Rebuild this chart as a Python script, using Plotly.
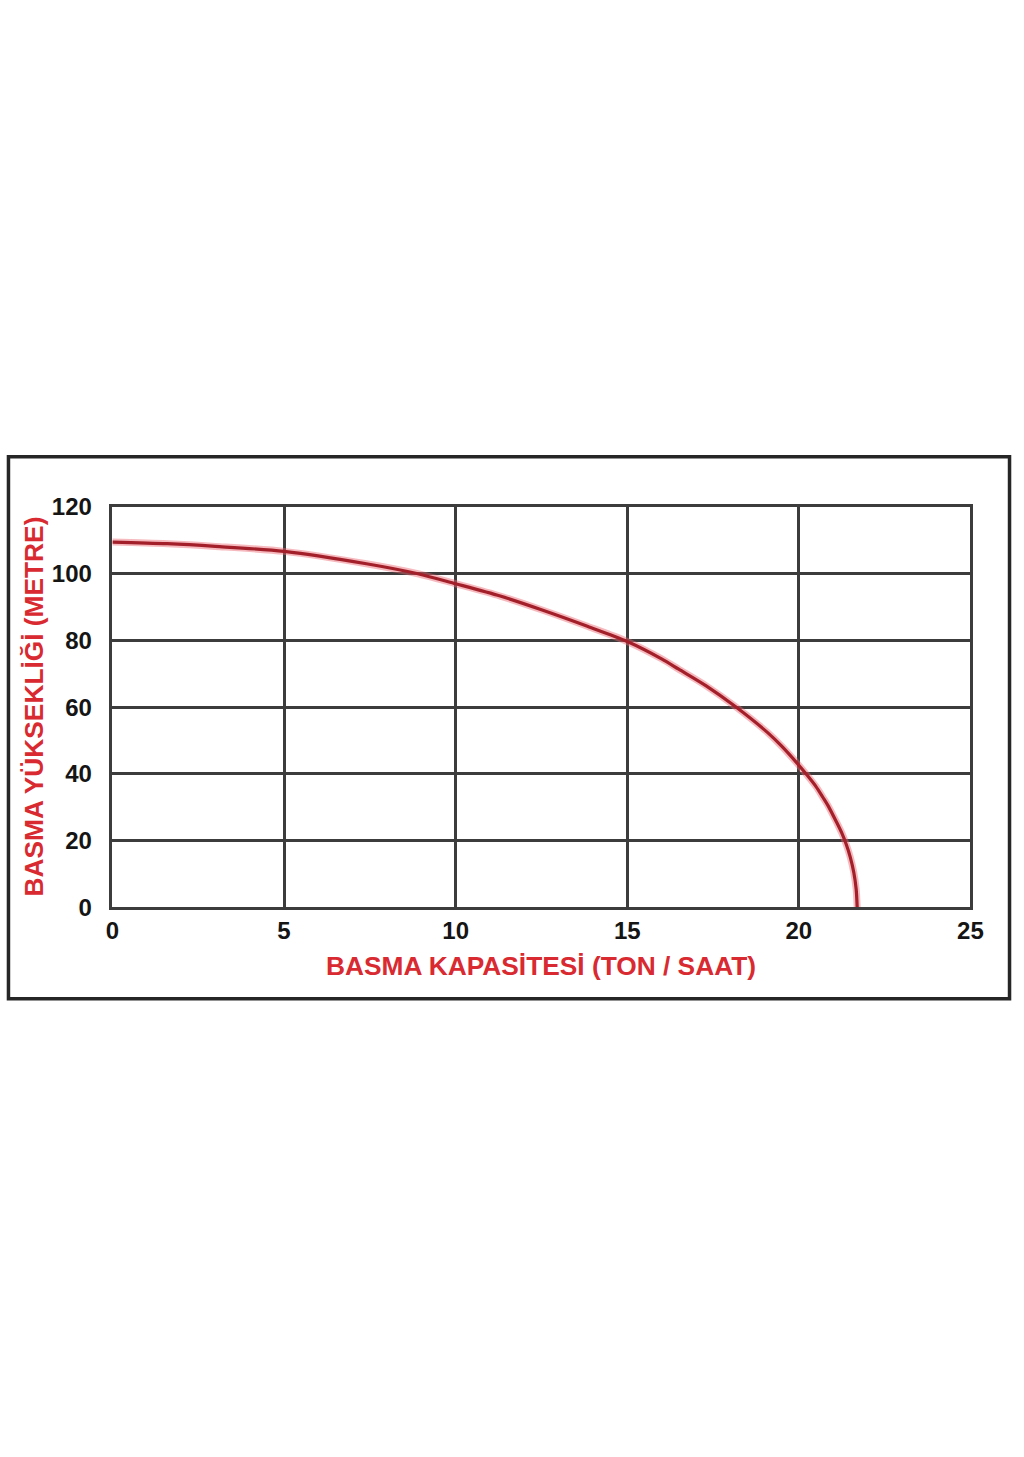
import plotly.graph_objects as go

# Pump curve data
capacity = [0, 1.6, 3, 5, 7.4, 8.9, 10, 11.3, 12.5, 13.8, 15, 16, 16.5, 17.3, 18.15,
            19.1, 19.5, 20, 20.25, 20.5, 20.7, 20.85, 21.1, 21.25, 21.38, 21.5, 21.6, 21.67, 21.7]
head = [109.5, 109.0, 108.2, 106.7, 103.0, 100.0, 97.0, 93.3, 89.2, 84.4, 79.7, 74.5, 71.4, 66.4, 60.2,
        52.3, 48.3, 42.6, 39.5, 36.2, 33.0, 30.5, 25.5, 22.3, 18.9, 15.0, 10.5, 5.5, 0]

x_ticks = [0, 5, 10, 15, 20, 25]
y_ticks = [0, 20, 40, 60, 80, 100, 120]
x_title = "BASMA KAPASİTESİ (TON / SAAT)"
y_title = "BASMA YÜKSEKLİĞİ (METRE)"

W, H = 1024, 1457
RED_TXT = "#d92a31"
GRID = "#3c3c3c"
FONT = "Liberation Sans, Arial, sans-serif"

# calibration of the photographed page (slight shrink about the centre)
SX, AX = 0.985, 5.1
SY, AY = 0.988, 8.7


def fx(p):
    return min(max((p - AX) / SX, 1.5), W - 1.5) / W


def fy(p):
    return 1 - min(max((p - AY) / SY, 1.5), H - 1.5) / H


fig = go.Figure()
fig.add_trace(go.Scatter(
    x=capacity, y=head, mode="lines",
    line=dict(color="rgba(232,100,110,0.45)", width=7, shape="spline", smoothing=0.8),
    hoverinfo="skip", showlegend=False,
))
fig.add_trace(go.Scatter(
    x=capacity, y=head, mode="lines",
    line=dict(color="#a31f29", width=3.2, shape="spline", smoothing=0.8),
    hoverinfo="skip", showlegend=False,
))

axis_common = dict(
    showgrid=True, gridcolor=GRID, gridwidth=2.5,
    showline=True, linecolor=GRID, linewidth=2.5, mirror=True,
    zeroline=False, ticks="",
    tickfont=dict(family=FONT, size=24, color="#151515", weight="bold"),
)

fig.update_layout(
    width=W, height=H,
    margin=dict(l=0, r=0, t=0, b=0),
    paper_bgcolor="white", plot_bgcolor="white",
    xaxis=dict(
        domain=[fx(111), fx(973)], range=[0, 25],
        tickvals=x_ticks, ticktext=[str(v) for v in x_ticks],
        ticklabelstandoff=0, **axis_common,
    ),
    yaxis=dict(
        domain=[fy(908), fy(505)], range=[0, 120],
        tickvals=y_ticks, ticktext=[str(v) for v in y_ticks],
        ticklabelstandoff=13, **axis_common,
    ),
    shapes=[dict(
        type="rect", xref="paper", yref="paper",
        x0=fx(2.5), x1=fx(1021.5), y0=fy(1000), y1=fy(454.5),
        line=dict(color="#262626", width=3.5), fillcolor="rgba(0,0,0,0)", layer="below",
    )],
    annotations=[
        dict(text=x_title, xref="paper", yref="paper",
             x=fx(542), y=fy(967), showarrow=False,
             xanchor="center", yanchor="middle",
             font=dict(family=FONT, size=26.3, color=RED_TXT, weight="bold")),
        dict(text=y_title, xref="paper", yref="paper",
             x=fx(32), y=fy(706), showarrow=False, textangle=-90,
             xanchor="center", yanchor="middle",
             font=dict(family=FONT, size=26.3, color=RED_TXT, weight="bold")),
    ],
)

fig.write_html("out.html", config={"displayModeBar": False},
               post_script="document.body.style.margin='0';")
